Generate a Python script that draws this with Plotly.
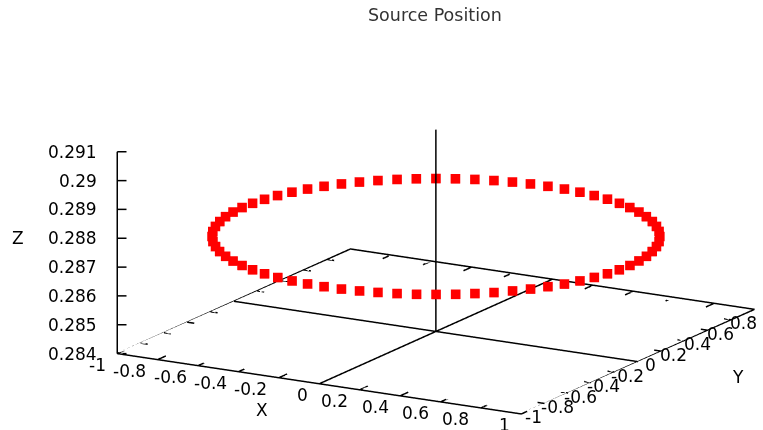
import plotly.graph_objects as go

# ---- data: 72 source positions on a ring ----
SRC_X = [0.960, 0.956, 0.945, 0.927, 0.902, 0.870, 0.831, 0.786, 0.735, 0.679, 0.617, 0.551,
         0.480, 0.406, 0.328, 0.248, 0.167, 0.084,
         0.000, -0.084, -0.167, -0.248, -0.328, -0.406, -0.480, -0.551, -0.617, -0.679, -0.735, -0.786,
         -0.831, -0.870, -0.902, -0.927, -0.945, -0.956,
         -0.960, -0.956, -0.945, -0.927, -0.902, -0.870, -0.831, -0.786, -0.735, -0.679, -0.617, -0.551,
         -0.480, -0.406, -0.328, -0.248, -0.167, -0.084,
         0.000, 0.084, 0.167, 0.248, 0.328, 0.406, 0.480, 0.551, 0.617, 0.679, 0.735, 0.786,
         0.831, 0.870, 0.902, 0.927, 0.945, 0.956]
SRC_Y = [0.000, 0.084, 0.167, 0.248, 0.328, 0.406, 0.480, 0.551, 0.617, 0.679, 0.735, 0.786,
         0.831, 0.870, 0.902, 0.927, 0.945, 0.956,
         0.960, 0.956, 0.945, 0.927, 0.902, 0.870, 0.831, 0.786, 0.735, 0.679, 0.617, 0.551,
         0.480, 0.406, 0.328, 0.248, 0.167, 0.084,
         0.000, -0.084, -0.167, -0.248, -0.328, -0.406, -0.480, -0.551, -0.617, -0.679, -0.735, -0.786,
         -0.831, -0.870, -0.902, -0.927, -0.945, -0.956,
         -0.960, -0.956, -0.945, -0.927, -0.902, -0.870, -0.831, -0.786, -0.735, -0.679, -0.617, -0.551,
         -0.480, -0.406, -0.328, -0.248, -0.167, -0.084]
SRC_Z = [0.2873] * len(SRC_X)

X_RANGE = [-1, 1]
Y_RANGE = [-1, 1]
Z_RANGE = [0.284, 0.291]
XY_TICKS = [-1, -0.8, -0.6, -0.4, -0.2, 0, 0.2, 0.4, 0.6, 0.8, 1]
XY_TICKTEXT = ["-1", "-0.8", "-0.6", "-0.4", "-0.2", "0", "0.2", "0.4", "0.6", "0.8", "1"]
Z_TICKS = [0.284, 0.285, 0.286, 0.287, 0.288, 0.289, 0.29, 0.291]
Z_TICKTEXT = ["0.284", "0.285", "0.286", "0.287", "0.288", "0.289", "0.29", "0.291"]

FONT = "DejaVu Sans"
FS = 17
x0, x1 = X_RANGE
y0, y1 = Y_RANGE
z0, z1 = Z_RANGE

fig = go.Figure()
line_style = dict(color="black", width=3)


def seg_trace(xs, ys, zs):
    return go.Scatter3d(x=xs, y=ys, z=zs, mode="lines", line=line_style,
                        hoverinfo="skip", showlegend=False)


# base border and z axis at the left corner
fig.add_trace(seg_trace([x0, x1, x1, x0, x0, x0], [y0, y0, y1, y1, y0, y0],
                        [z0, z0, z0, z0, z0, z1]))
# zero axes
fig.add_trace(seg_trace([x0, x1, None, 0, 0, None, 0, 0],
                        [0, 0, None, y0, y1, None, 0, 0],
                        [z0, z0, None, z0, z0, None, z0, z1]))

# tick marks (x ticks on front/back edges, y ticks on both side edges, z ticks on the z axis)
span = x1 - x0
tlx = 0.035 * span   # x tick length (drawn along y)
tly = 0.0175 * span  # y tick length (drawn along x)
tlz = 0.02 * span    # z tick length (screen horizontal)
tx, ty, tz = [], [], []
for v in XY_TICKS:
    tx += [v, v, None, v, v, None]
    ty += [y0, y0 + tlx, None, y1, y1 - tlx, None]
    tz += [z0, z0, None, z0, z0, None]
    tx += [x1, x1 - tly, None, x0, x0 + tly, None]
    ty += [v, v, None, v, v, None]
    tz += [z0, z0, None, z0, z0, None]
for v in Z_TICKS:
    tx += [x0, x0 + tlz * 0.866, None]
    ty += [y0, y0 + tlz * 0.5, None]
    tz += [v, v, None]
fig.add_trace(seg_trace(tx, ty, tz))

fig.add_trace(go.Scatter3d(
    x=SRC_X, y=SRC_Y, z=SRC_Z, mode="markers",
    marker=dict(symbol="square", size=5, color="#ff0000", line=dict(width=0)),
    showlegend=False))

# tick labels placed through the scene's own projection
tick_font = dict(family=FONT, size=FS, color="black")
scene_ann = []
for v, t in zip(XY_TICKS, XY_TICKTEXT):
    scene_ann.append(dict(x=v, y=y0, z=z0, text=t, showarrow=False, xanchor="right",
                          yanchor="middle", xshift=-9.5, yshift=-11, font=tick_font))
    scene_ann.append(dict(x=x1, y=v, z=z0, text=t, showarrow=False, xanchor="center",
                          yanchor="middle", xshift=12.5, yshift=-3.5, font=tick_font))
for v, t in zip(Z_TICKS, Z_TICKTEXT):
    scene_ann.append(dict(x=x0, y=y0, z=v, text=t, showarrow=False, xanchor="right",
                          yanchor="middle", xshift=-18, yshift=0, font=tick_font))

axis_common = dict(showgrid=False, showbackground=False, zeroline=False, showline=False,
                   showspikes=False, ticks="", showticklabels=False, title=dict(text=""))

# orthographic camera approximating the reference view
d = (0.483, -0.837, 0.259)
L = 1.5
c = (-0.228, -0.111, 0.070)

fig.update_layout(
    width=763, height=430,
    margin=dict(l=0, r=0, t=0, b=0),
    paper_bgcolor="white",
    scene=dict(
        domain=dict(x=[0, 1], y=[0, 1]),
        xaxis=dict(range=X_RANGE, **axis_common),
        yaxis=dict(range=Y_RANGE, **axis_common),
        zaxis=dict(range=Z_RANGE, **axis_common),
        aspectmode="manual",
        aspectratio=dict(x=2.17, y=2.17, z=0.972),
        camera=dict(
            projection=dict(type="orthographic"),
            up=dict(x=0, y=0, z=1),
            center=dict(x=c[0], y=c[1], z=c[2]),
            eye=dict(x=c[0] + d[0] * L, y=c[1] + d[1] * L, z=c[2] + d[2] * L),
        ),
        annotations=scene_ann,
    ),
    annotations=[
        dict(text="Source Position", x=435 / 763, y=1 - 15 / 430, xref="paper", yref="paper",
             xanchor="center", yanchor="middle",
             showarrow=False, font=dict(family=FONT, size=17.5, color="#333")),
        dict(text="X", x=262 / 763, y=1 - 410 / 430, xref="paper", yref="paper",
             xanchor="center", yanchor="middle", showarrow=False, font=tick_font),
        dict(text="Y", x=738 / 763, y=1 - 377 / 430, xref="paper", yref="paper",
             xanchor="center", yanchor="middle", showarrow=False, font=tick_font),
        dict(text="Z", x=18 / 763, y=1 - 238 / 430, xref="paper", yref="paper",
             xanchor="center", yanchor="middle", showarrow=False, font=tick_font),
    ],
)

fig.write_html("out.html", config={"displayModeBar": False},
               post_script="document.body.style.margin='0';")
